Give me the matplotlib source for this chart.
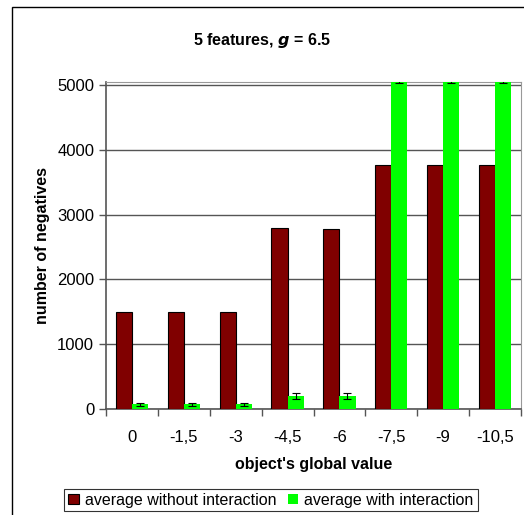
import numpy as np
import matplotlib
matplotlib.use("Agg")
import matplotlib.pyplot as plt
from matplotlib.patches import Rectangle

plt.rcParams['font.family'] = ['Liberation Sans', 'DejaVu Sans']

categories = ['0', '-1,5', '-3', '-4,5', '-6', '-7,5', '-9', '-10,5']
without_int = [1490, 1490, 1490, 2800, 2780, 3770, 3770, 3770]
with_int = [70, 70, 70, 200, 200, 5045, 5045, 5045]
with_err = [22, 22, 22, 50, 50, 20, 20, 20]

fig = plt.figure(figsize=(5.24, 5.15), dpi=100)
ax = fig.add_axes([106/524, 1-409/515, (521-106)/524, (409-82)/515])

x = np.arange(len(categories))
w = 0.31
ax.bar(x - w/2, without_int, w, color='#800000', edgecolor='black', linewidth=0.8,
       label='average without interaction', zorder=3)
ax.bar(x + w/2, with_int, w, color='#00ff00', edgecolor='none',
       label='average with interaction', zorder=3)
ax.errorbar(x + w/2, with_int, yerr=with_err, fmt='none', ecolor='black',
            elinewidth=0.8, capsize=3, capthick=0.8, zorder=4)

ax.set_xlim(-0.5, len(categories) - 0.5)
ax.set_ylim(0, 5045)
ax.set_yticks([0, 1000, 2000, 3000, 4000, 5000])
ax.yaxis.grid(True, color='#555555', linewidth=1)
ax.set_axisbelow(True)
ax.set_xticks(x)
ax.set_xticklabels(categories, fontsize=12)
ax.tick_params(axis='x', length=0, pad=15)
ax.set_xticks(np.arange(len(categories) + 1) - 0.5, minor=True)
ax.tick_params(axis='x', which='minor', length=5, color='#555555', width=1)
ax.tick_params(axis='y', length=5, color='#555555', width=1, labelsize=12)
for s in ['top', 'right']:
    ax.spines[s].set_color('#999999')
for s in ['left', 'bottom']:
    ax.spines[s].set_color('#555555')
    ax.spines[s].set_linewidth(1.2)

ax.set_xlabel("object's global value", fontsize=11.5, fontweight='bold', labelpad=9)
ax.set_ylabel('number of negatives', fontsize=11.5, fontweight='bold', labelpad=5)
fig.text(0.5, 1-41/515, r'5 features, $\boldsymbol{g}$ = 6.5', ha='center', va='center',
         fontsize=11.5, fontweight='bold')

leg = ax.legend(loc='center', bbox_to_anchor=(271/524, 1-500/515),
                bbox_transform=fig.transFigure, ncol=2, frameon=True, fancybox=False,
                fontsize=11.5, handlelength=0.65, handleheight=0.65, handletextpad=0.4,
                columnspacing=0.7, borderpad=0.25, borderaxespad=0)
leg.get_frame().set_edgecolor('black')
leg.get_frame().set_linewidth(0.8)

fig.patches.append(Rectangle((12/524, -0.1), 2, 1 - 7/515 + 0.1, transform=fig.transFigure,
                             fill=False, edgecolor='black', linewidth=1))

fig.savefig('out.png', dpi=100)
